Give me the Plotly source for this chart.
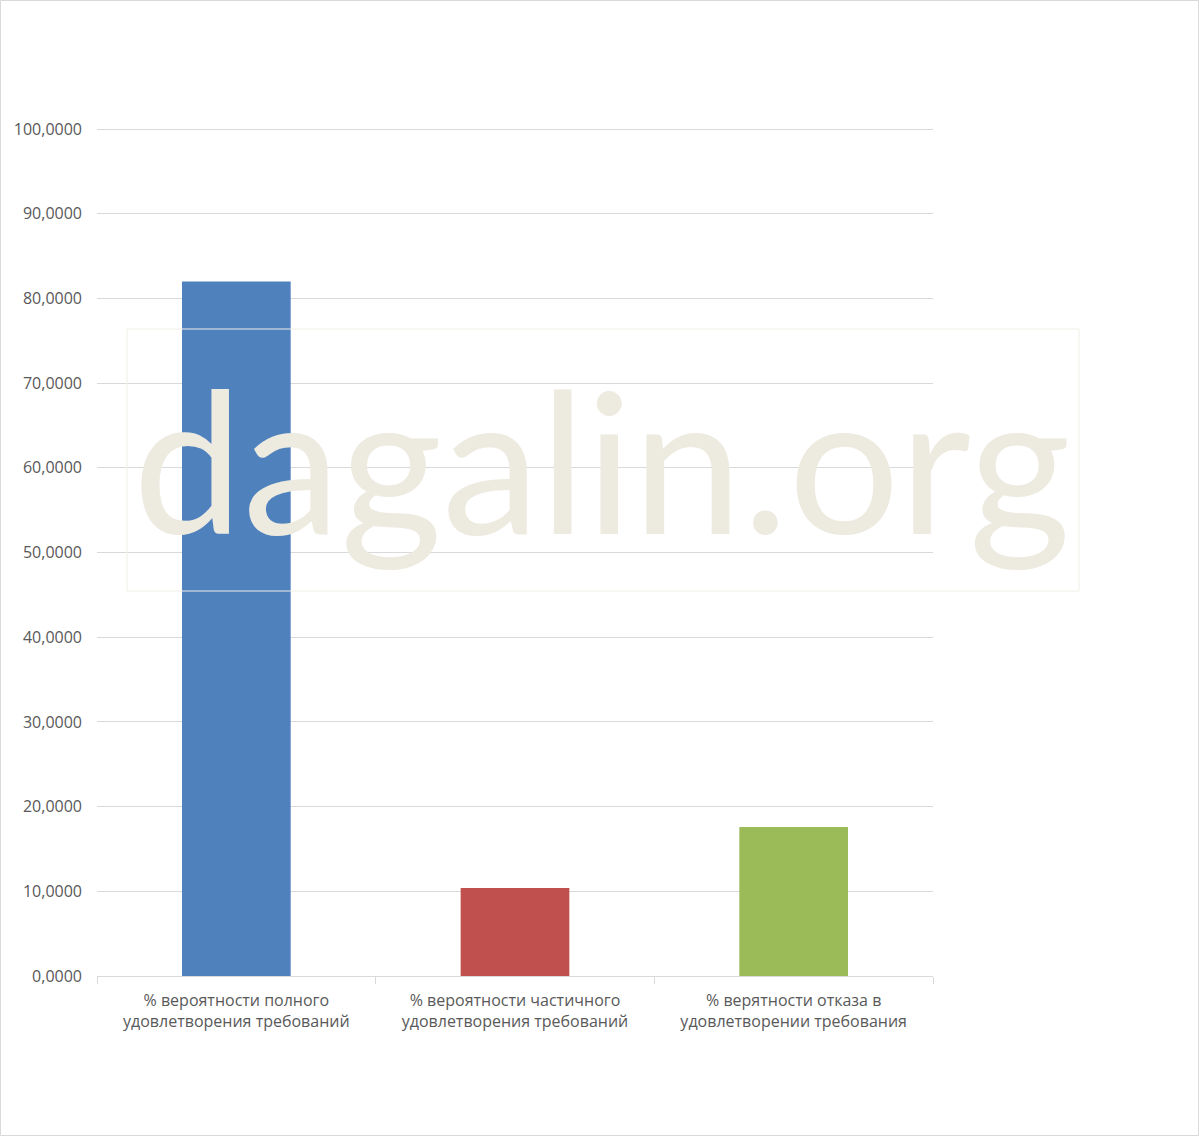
import plotly.graph_objects as go

categories = [
    "% вероятности полного<br>удовлетворения требований",
    "% вероятности частичного<br>удовлетворения требований",
    "% верятности отказа в<br>удовлетворении требования",
]
values = [82.0, 10.4, 17.6]
colors = ["#4f81bd", "#c0504d", "#9bbb59"]
tick_vals = [0, 10, 20, 30, 40, 50, 60, 70, 80, 90, 100]
tick_text = ["0,0000", "10,0000", "20,0000", "30,0000", "40,0000", "50,0000",
             "60,0000", "70,0000", "80,0000", "90,0000", "100,0000"]

W, H = 1199, 1136
L, R, T, B = 97, 266, 121, 160
pw, ph = W - L - R, H - T - B
y_top = 100 * ph / (H - 129 - B)

def px(x):
    return (x - L) / pw

def py(y):
    return (H - B - y) / ph

fig = go.Figure(go.Bar(
    x=categories, y=values, marker=dict(color=colors, line=dict(width=0)),
    width=0.39,
))

font = "Open Sans, Noto Sans, sans-serif"
fig.update_layout(
    width=W, height=H,
    margin=dict(l=L, r=R, t=T, b=B),
    paper_bgcolor="white", plot_bgcolor="white",
    showlegend=False,
    font=dict(family=font, size=16, color="#595959"),
    xaxis=dict(
        showgrid=False, showline=True, linecolor="#d9d9d9", linewidth=1,
        ticks="outside", tickson="boundaries", ticklen=7, tickcolor="#d9d9d9",
        tickfont=dict(size=16, color="#595959"), ticklabelstandoff=10,
    ),
    yaxis=dict(
        range=[0, y_top], tickvals=tick_vals, ticktext=tick_text,
        showgrid=True, gridcolor="#d9d9d9", gridwidth=1,
        zeroline=False, showline=False, ticks="", ticklabelstandoff=14,
        tickfont=dict(size=16, color="#595959"),
    ),
    shapes=[
        dict(type="rect", xref="paper", yref="paper", layer="above",
             x0=px(127), x1=px(1079), y0=py(591), y1=py(329),
             line=dict(color="#f0eee8", width=1), fillcolor="rgba(0,0,0,0)"),
        dict(type="rect", xref="paper", yref="paper", layer="above",
             x0=px(0.5), x1=px(1198.5), y0=py(1135.5), y1=py(0.5),
             line=dict(color="#d9d9d9", width=1), fillcolor="rgba(0,0,0,0)"),
    ],
    annotations=[
        dict(text="dagalin.org", xref="paper", yref="paper",
             x=px(602), y=py(458), xanchor="center", yanchor="middle",
             showarrow=False,
             font=dict(family="Lato, Open Sans, sans-serif", size=196, color="#edeae0")),
    ],
)

fig.write_html("out.html", config={"displayModeBar": False},
               post_script="document.body.style.margin='0';")
